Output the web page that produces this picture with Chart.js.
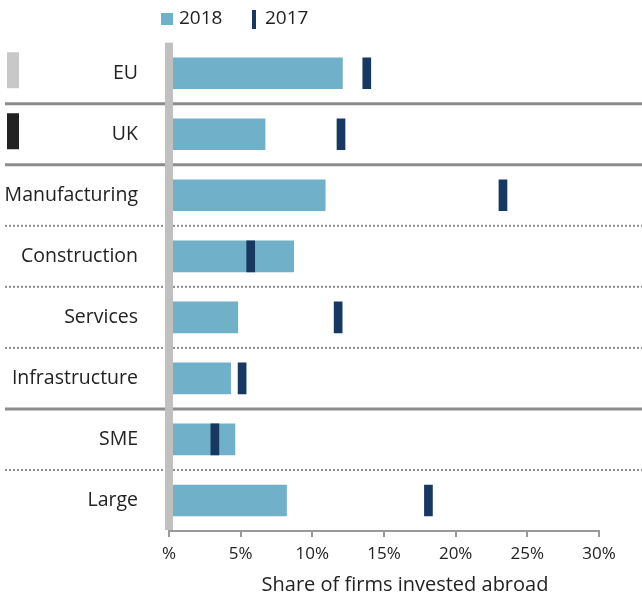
<!DOCTYPE html>
<html>
<head>
<meta charset="utf-8">
<script src="https://cdn.jsdelivr.net/npm/chart.js@4"></script>
<style>
  body { margin: 0; background: #fff; }
</style>
</head>
<body>
<canvas id="investChart" width="642" height="599"></canvas>
<script>
const categories = ['EU', 'UK', 'Manufacturing', 'Construction', 'Services', 'Infrastructure', 'SME', 'Large'];
const share2018 = [12.1, 6.7, 10.9, 8.7, 4.8, 4.3, 4.6, 8.2];
const share2017 = [13.8, 12.0, 23.3, 5.7, 11.8, 5.1, 3.2, 18.1];
const xTickLabels = ['%', '5%', '10%', '15%', '20%', '25%', '30%'];
const xTitle = 'Share of firms invested abroad';
// rows after which a solid rule is drawn (others get a dotted rule)
const solidBreaks = [0, 1, 5];

const FONT = '"Open Sans", "Noto Sans", sans-serif';
const BAR_COLOR = '#70b0c8';
const MARK_COLOR = '#173861';
const markHalf = 0.28; // half width of the 2017 marker, in % units

const decorations = {
  id: 'decorations',
  beforeDatasetsDraw(chart) {
    const { ctx, scales: { y } } = chart;
    ctx.save();
    ctx.strokeStyle = '#8c8c8c';
    for (let i = 0; i < categories.length - 1; i++) {
      const yy = (y.getPixelForValue(i) + y.getPixelForValue(i + 1)) / 2;
      ctx.beginPath();
      if (solidBreaks.includes(i)) {
        ctx.lineWidth = 3;
        ctx.setLineDash([]);
      } else {
        ctx.lineWidth = 2;
        ctx.setLineDash([2, 2]);
      }
      ctx.moveTo(5, yy);
      ctx.lineTo(chart.width, yy);
      ctx.stroke();
    }
    // country swatches on the far left
    const swatches = ['#c8c8c8', '#222222'];
    swatches.forEach((c, i) => {
      const cy = y.getPixelForValue(i) - 3;
      ctx.fillStyle = c;
      ctx.fillRect(7, cy - 18, 12, 36);
    });
    ctx.restore();
  },
  afterDatasetsDraw(chart) {
    const { ctx, chartArea } = chart;
    ctx.save();
    ctx.fillStyle = '#c0c0c0';
    ctx.fillRect(chartArea.left - 4, chartArea.top, 8, chartArea.bottom - chartArea.top - 1);
    ctx.restore();
  },
  afterDraw(chart) {
    const { ctx } = chart;
    const ds = chart.data.datasets;
    ctx.save();
    ctx.font = '19px ' + FONT;
    ctx.textBaseline = 'middle';
    ctx.fillStyle = ds[0].backgroundColor;
    ctx.fillRect(161, 13, 12, 12);
    ctx.fillStyle = '#222';
    ctx.fillText(ds[0].label, 179, 19);
    ctx.fillStyle = ds[1].backgroundColor;
    ctx.fillRect(252, 10, 4, 19);
    ctx.fillStyle = '#222';
    ctx.fillText(ds[1].label, 265, 19);
    // axis title, sits a little right of the axis centre in the original
    ctx.font = '20px ' + FONT;
    ctx.textAlign = 'center';
    ctx.fillText(xTitle, 405, 585);
    ctx.restore();
  }
};

new Chart(document.getElementById('investChart'), {
  type: 'bar',
  data: {
    labels: categories,
    datasets: [
      {
        label: '2018',
        data: share2018,
        backgroundColor: BAR_COLOR,
        barThickness: 31,
        grouped: false,
        order: 2
      },
      {
        label: '2017',
        data: share2017.map(v => [v - markHalf, v + markHalf]),
        backgroundColor: MARK_COLOR,
        barThickness: 31,
        grouped: false,
        order: 1
      }
    ]
  },
  options: {
    indexAxis: 'y',
    responsive: false,
    animation: false,
    layout: { padding: { top: 41, right: 43, left: 0, bottom: 0 } },
    plugins: {
      legend: { display: false },
      tooltip: { enabled: false }
    },
    scales: {
      x: {
        min: 0,
        max: 30,
        afterFit(scale) { scale.height = 68; },
        ticks: {
          stepSize: 5,
          padding: 7,
          color: '#222',
          font: { size: 17, family: FONT },
          callback: (v, i) => xTickLabels[i]
        },
        grid: { drawOnChartArea: false, drawTicks: true, tickLength: 6, color: '#999', lineWidth: 2 },
        border: { color: '#999', width: 2 },
        title: { display: false }
      },
      y: {
        offset: true,
        afterFit(scale) { scale.width = 169; },
        grid: { display: false, drawTicks: false },
        border: { display: false },
        ticks: {
          padding: 31,
          color: '#222',
          font: { size: 19.5, family: FONT }
        }
      }
    }
  },
  plugins: [decorations]
});
</script>
</body>
</html>
